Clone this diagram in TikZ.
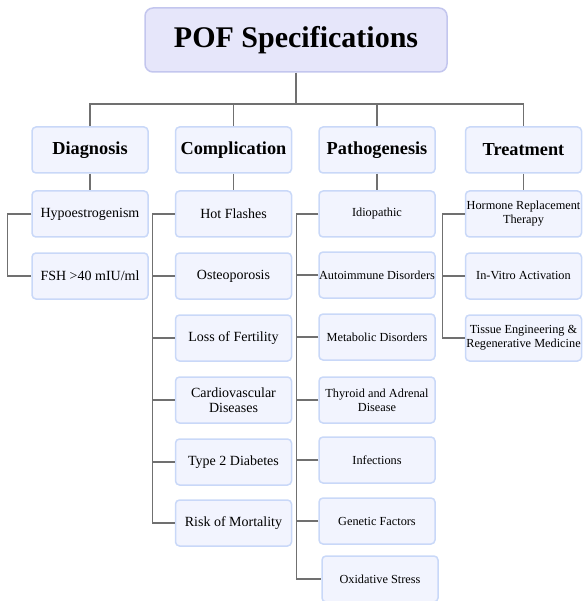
\documentclass[tikz,border=0pt]{standalone}
\usepackage{fontspec}
\setmainfont{Liberation Serif}
\definecolor{boxfill}{HTML}{F2F4FE}
\definecolor{boxline}{HTML}{C9D8F8}
\definecolor{topfill}{HTML}{E6E6FA}
\definecolor{topline}{HTML}{C3C6EE}
\definecolor{wire}{HTML}{707070}
\tikzstyle{hd}=[rectangle,rounded corners=8pt,draw=topline,fill=topfill,line width=1.5pt,minimum width=302pt,minimum height=64pt,inner sep=0pt,font=\fontsize{30}{32}\selectfont\bfseries]
\tikzstyle{cat}=[rectangle,rounded corners=4pt,draw=boxline,fill=boxfill,line width=1.5pt,minimum width=116pt,minimum height=46pt,inner sep=0pt,font=\fontsize{18.3}{20}\selectfont\bfseries]
\tikzstyle{itm}=[cat,align=center,font=\fontsize{14}{15}\selectfont]
\tikzstyle{sitm}=[itm,font=\fontsize{12.3}{14}\selectfont]
\tikzstyle{ln}=[draw=wire,line width=1.2pt]

\begin{document}
\begin{tikzpicture}[x=1pt,y=-1pt]
	\useasboundingbox (0,0) rectangle (582,601);
	\node[hd] (pof) at (296,40) {POF Specifications};
	\node[cat] (diag) at (90,150) {Diagnosis};
	\node[cat] (comp) at (233.5,150) {Complication};
	\node[cat] (path) at (377,150) {Pathogenesis};
	\node[cat] (treat) at (523.5,150) {Treatment};
	% second row
	\node[itm] (diag1) at (90,214) {Hypoestrogenism};
	\node[itm] (diag2) at (90,276) {FSH >40 mIU/ml};
	\foreach \i/\y/\t in {1/214/Hot Flashes,2/276/Osteoporosis,3/338/Loss of Fertility,4/400/Cardiovascular\\Diseases,5/462/Type 2 Diabetes,6/523/Risk of Mortality}
	\node[itm] (comp\i) at (233.5,\y) {\t};
	\foreach \i/\y/\t in {1/214/Idiopathic,2/275/Autoimmune Disorders,3/337/Metabolic Disorders,4/400/Thyroid and Adrenal\\Disease,5/460/Infections,6/521/Genetic Factors}
	\node[sitm] (path\i) at (377,\y) {\t};
	\node[sitm] (path7) at (380,579) {Oxidative Stress};
	\foreach \i/\y/\t in {1/214/Hormone Replacement\\Therapy,2/276/In-Vitro Activation,3/338/Tissue Engineering \&\\Regenerative Medicine}
	\node[sitm] (treat\i) at (523.5,\y) {\t};
	% connectors
	\coordinate (bar) at (0,104);
	\draw[ln] (pof.south) -- (pof.south |- bar) coordinate (hub);
	\draw[ln] (diag.north) |- (hub) -| (treat.north);
	\draw[ln] (comp.north) -- (comp.north |- hub);
	\draw[ln] (path.north) -- (path.north |- hub);
	\draw[ln] (diag) -- (diag1);
	\draw[ln] (comp) -- (comp1);
	\draw[ln] (path) -- (path1);
	\draw[ln] (treat) -- (treat1);
	\draw[ln] (diag1.west) -- ++(-24,0) |- (diag2.west);
	\draw[ln] (comp1.west) -- ++(-22,0) coordinate (cbar) |- (comp6.west);
	\foreach \i in {2,3,4,5}
	\draw[ln] (comp\i.west) -- (comp\i.west -| cbar);
	\draw[ln] (path1.west) -- ++(-22,0) coordinate (pbar) |- (path7.west);
	\foreach \i in {2,3,4,5,6}
	\draw[ln] (path\i.west) -- (path\i.west -| pbar);
	\draw[ln] (treat1.west) -- ++(-22.5,0) coordinate (tbar) |- (treat3.west);
	\draw[ln] (treat2.west) -- (treat2.west -| tbar);
\end{tikzpicture}
\end{document}
